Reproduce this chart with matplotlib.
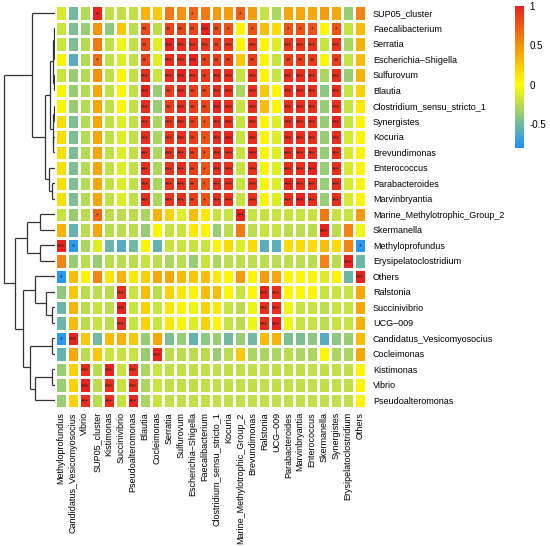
import numpy as np
import matplotlib
matplotlib.use("Agg")
import matplotlib.pyplot as plt
from matplotlib.colors import LinearSegmentedColormap

plt.rcParams['font.family'] = ['Liberation Sans', 'DejaVu Sans']
plt.rcParams['axes.unicode_minus'] = False

# labels
row_labels = ["SUP05_cluster", "Faecalibacterium", "Serratia", "Escherichia\u2013Shigella",
              "Sulfurovum", "Blautia", "Clostridium_sensu_stricto_1", "Synergistes",
              "Kocuria", "Brevundimonas", "Enterococcus", "Parabacteroides",
              "Marvinbryantia", "Marine_Methylotrophic_Group_2", "Skermanella",
              "Methyloprofundus", "Erysipelatoclostridium", "Others", "Ralstonia",
              "Succinivibrio", "UCG\u2013009", "Candidatus_Vesicomyosocius", "Cocleimonas",
              "Kistimonas", "Vibrio", "Pseudoalteromonas"]
col_labels = ["Methyloprofundus", "Candidatus_Vesicomyosocius", "Vibrio", "SUP05_cluster",
              "Kistimonas", "Succinivibrio", "Pseudoalteromonas", "Blautia", "Cocleimonas",
              "Serratia", "Sulfurovum", "Escherichia\u2013Shigella", "Faecalibacterium",
              "Clostridium_sensu_stricto_1", "Kocuria", "Marine_Methylotrophic_Group_2",
              "Brevundimonas", "Ralstonia", "UCG\u2013009", "Parabacteroides", "Marvinbryantia",
              "Enterococcus", "Skermanella", "Synergistes", "Erysipelatoclostridium", "Others"]

# correlation values (rows top->bottom, columns left->right)
corr = np.array([
    [-0.15, -0.5, -0.26, 1.0, -0.22, -0.22, -0.22, 0.35, 0.25, 0.62, 0.5, 0.7, 0.6, 0.45, 0.45, 0.72, 0.45, -0.2, -0.3, 0.4, 0.4, 0.4, 0.45, 0.4, -0.36, 0.55],
    [-0.2, -0.46, -0.36, 0.48, -0.4, 0.25, -0.24, 0.82, -0.24, 0.85, 0.85, 0.85, 1.0, 0.85, 0.78, 0.05, 0.78, 0.3, 0.15, 0.78, 0.78, 0.78, 0.05, 0.78, -0.2, 0.3],
    [-0.2, -0.46, -0.26, 0.6, -0.22, -0.06, -0.22, 0.85, -0.12, 1.0, 0.95, 0.95, 0.92, 0.88, 0.92, 0.05, 0.92, 0.05, -0.12, 0.92, 0.92, 0.92, -0.2, 0.92, -0.3, 0.35],
    [0.05, -0.6, -0.26, 0.65, -0.22, -0.12, -0.22, 0.85, -0.12, 0.95, 0.95, 1.0, 0.88, 0.88, 0.88, 0.25, 0.88, 0.05, -0.2, 0.88, 0.88, 0.88, 0.05, 0.88, -0.2, 0.3],
    [-0.2, -0.36, -0.26, 0.5, -0.22, 0.05, -0.22, 0.95, -0.2, 0.95, 1.0, 0.95, 0.9, 0.95, 0.95, -0.2, 0.95, 0.05, -0.2, 0.95, 0.95, 0.95, -0.3, 0.95, -0.36, 0.35],
    [0.05, -0.36, -0.26, 0.4, -0.22, 0.05, -0.22, 1.0, -0.36, 0.88, 0.95, 0.88, 0.85, 0.95, 0.95, -0.3, 0.95, 0.25, 0.05, 0.95, 0.95, 0.95, -0.4, 0.95, -0.2, 0.2],
    [0.05, -0.36, -0.26, 0.4, -0.22, 0.05, -0.22, 0.95, -0.36, 0.88, 0.95, 0.88, 0.85, 1.0, 0.95, -0.2, 0.95, 0.3, 0.05, 0.95, 0.95, 0.95, -0.36, 0.95, -0.2, 0.1],
    [0.15, -0.46, -0.26, 0.4, -0.22, -0.12, -0.22, 0.95, -0.3, 0.92, 0.95, 0.88, 0.78, 0.95, 0.95, -0.2, 0.95, 0.05, -0.12, 0.95, 0.95, 0.95, -0.36, 1.0, -0.2, 0.05],
    [0.15, -0.46, -0.26, 0.4, -0.22, -0.12, -0.22, 0.95, -0.3, 0.92, 0.95, 0.88, 0.78, 0.95, 1.0, -0.2, 0.95, 0.05, -0.12, 0.95, 0.95, 0.95, -0.36, 0.95, -0.15, 0.05],
    [0.15, -0.46, -0.26, 0.4, -0.22, -0.12, -0.22, 0.95, -0.3, 0.92, 0.95, 0.88, 0.78, 0.95, 0.95, -0.2, 1.0, 0.05, -0.12, 0.95, 0.95, 0.95, -0.36, 0.95, -0.15, 0.05],
    [0.15, -0.46, -0.26, 0.4, -0.22, -0.12, -0.22, 0.95, -0.3, 0.92, 0.95, 0.88, 0.78, 0.95, 0.95, -0.2, 0.95, 0.05, -0.12, 0.95, 0.95, 1.0, -0.36, 0.95, -0.15, 0.05],
    [0.15, -0.46, -0.26, 0.4, -0.22, -0.12, -0.22, 0.95, -0.3, 0.92, 0.95, 0.88, 0.78, 0.95, 0.95, -0.2, 0.95, 0.05, -0.12, 1.0, 0.95, 0.95, -0.36, 0.95, -0.15, 0.05],
    [0.15, -0.46, -0.26, 0.4, -0.22, -0.12, -0.22, 0.95, -0.3, 0.92, 0.95, 0.88, 0.78, 0.95, 0.95, -0.2, 0.95, 0.05, -0.12, 0.95, 1.0, 0.95, -0.36, 0.95, -0.15, 0.05],
    [-0.2, -0.36, -0.24, 0.7, -0.24, -0.24, -0.24, -0.3, 0.35, 0.2, -0.12, 0.3, 0.1, -0.2, -0.2, 1.0, -0.2, -0.2, -0.2, -0.2, -0.2, -0.2, 0.6, -0.2, -0.2, 0.45],
    [0.35, -0.55, -0.24, 0.4, -0.24, -0.24, -0.24, -0.36, 0.05, -0.2, -0.2, 0.1, 0.05, -0.36, -0.24, 0.6, -0.24, -0.2, -0.2, -0.24, -0.24, -0.24, 1.0, -0.24, 0.55, -0.06],
    [1.0, -0.75, -0.3, -0.12, -0.52, -0.6, -0.5, 0.05, -0.55, -0.2, -0.2, -0.2, -0.2, 0.05, 0.15, -0.12, 0.15, -0.58, -0.58, 0.15, 0.15, 0.15, 0.3, 0.15, 0.55, -0.75],
    [0.55, -0.36, -0.24, -0.36, -0.24, -0.24, -0.24, -0.2, -0.24, -0.3, -0.24, -0.36, -0.2, -0.3, -0.24, -0.24, -0.24, -0.24, -0.24, -0.24, -0.24, -0.24, 0.55, -0.24, 1.0, -0.52],
    [-0.75, 0.3, 0.05, 0.55, 0.1, 0.35, 0.1, 0.2, 0.4, 0.4, 0.3, 0.25, 0.3, 0.1, 0.05, 0.45, 0.05, 0.45, 0.4, 0.05, 0.05, 0.05, -0.12, 0.05, -0.52, 1.0],
    [-0.4, 0.25, -0.24, -0.24, -0.24, 0.95, -0.2, 0.3, -0.24, 0.2, 0.1, 0.05, 0.3, 0.3, 0.05, -0.2, 0.05, 1.0, 0.95, 0.05, 0.05, 0.05, -0.2, -0.2, -0.2, 0.4],
    [-0.52, 0.35, -0.24, -0.2, -0.24, 1.0, -0.2, 0.2, -0.2, 0.1, 0.05, -0.06, 0.2, 0.1, -0.2, -0.24, -0.06, 0.95, 0.95, -0.06, -0.2, -0.2, -0.24, -0.2, -0.2, 0.4],
    [-0.52, 0.3, -0.24, -0.2, -0.24, 0.95, -0.2, 0.2, -0.2, 0.1, 0.05, -0.12, 0.2, 0.05, -0.2, -0.24, -0.06, 0.95, 1.0, -0.06, -0.2, -0.2, -0.24, -0.2, -0.2, 0.35],
    [-0.75, 1.0, 0.25, -0.5, 0.3, 0.35, 0.25, -0.36, 0.4, -0.46, -0.36, -0.55, -0.4, -0.36, -0.5, -0.36, -0.5, 0.3, 0.35, -0.46, -0.46, -0.4, -0.6, -0.4, -0.36, 0.3],
    [-0.55, 0.4, -0.24, 0.25, -0.2, -0.2, -0.2, -0.36, 1.0, -0.24, -0.24, -0.24, -0.24, -0.36, -0.24, 0.25, -0.3, -0.3, -0.3, -0.24, -0.3, -0.3, 0.05, -0.3, -0.3, 0.4],
    [-0.36, 0.2, 0.95, -0.24, 1.0, -0.2, 0.95, -0.3, -0.2, -0.22, -0.22, -0.22, -0.22, -0.22, -0.22, -0.22, -0.22, -0.22, -0.22, -0.22, -0.22, -0.22, -0.22, -0.22, -0.22, 0.05],
    [-0.36, 0.2, 1.0, -0.24, 0.95, -0.2, 0.95, -0.3, -0.2, -0.22, -0.22, -0.22, -0.22, -0.22, -0.22, -0.22, -0.22, -0.22, -0.22, -0.22, -0.22, -0.22, -0.22, -0.22, -0.22, 0.05],
    [-0.36, 0.2, 0.95, -0.24, 0.95, -0.2, 1.0, -0.3, -0.2, -0.22, -0.22, -0.22, -0.22, -0.22, -0.22, -0.22, -0.22, -0.22, -0.22, -0.22, -0.22, -0.22, -0.22, -0.22, -0.22, 0.05],
])

# significance stars per cell (number of *)
stars = [
    "00010000000100010000000000",
    "00000002022232101001110100",
    "00000002033332303003330300",
    "00010002033322202002220200",
    "00000003033323303003330300",
    "00000003023223303003330300",
    "00000003023223303003330300",
    "00000003033213303003330300",
    "00000003033213303003330300",
    "00000003033213303003330300",
    "00000003033213303003330300",
    "00000003033213303003330300",
    "00000003033213303003330300",
    "00010000000000030000000000",
    "00000000000000000000003000",
    "31000000000000000000000001",
    "00000000000000000000000030",
    "10000000000000000000000003",
    "00000300000000000330000000",
    "00000300000000000330000000",
    "00000300000000000330000000",
    "13000000000000000000000000",
    "00000000300000000000000000",
    "00303030000000000000000000",
    "00303030000000000000000000",
    "00303030000000000000000000",
]

# row dendrogram: (height, left, right), leaves are row indices
tree = (1.0,
        (0.457, 0,
         (0.196,
          (0.098,
           (0.03, (0.02, 1, (0.01, 2, 3)), (0.015, 4, 5)),
           (0.04, (0.02, 6, 7), (0.03, 8, 9))),
          (0.12, 10, (0.05, 11, 12)))),
        (0.784,
         (0.549, (0.294, 13, 14), (0.294, 15, 16)),
         (0.627,
          (0.392, 17, (0.176, 18, (0.06, 19, 20))),
          (0.49, (0.065, 21, 22), (0.39, (0.05, 23, 24), 25)))))

cmap = LinearSegmentedColormap.from_list(
    "rb", [(0.0, "#1E90FF"), (0.8 / 1.8, "#FFFF00"), (1.0, "#E8231E")])

W, H = 550, 547
fig = plt.figure(figsize=(W / 100, H / 100), dpi=100)
hm_left, hm_right, hm_top, hm_bot = 55, 366, 5, 408
ax = fig.add_axes([hm_left / W, 1 - hm_bot / H, (hm_right - hm_left) / W, (hm_bot - hm_top) / H])
nr, nc = corr.shape
mesh = ax.pcolormesh(np.arange(nc + 1), np.arange(nr + 1), corr, cmap=cmap,
                     vmin=-0.8, vmax=1, edgecolors="white", linewidth=0.9)
ax.set_xlim(0, nc)
ax.set_ylim(nr, 0)
for s in ax.spines.values():
    s.set_visible(False)
ax.yaxis.tick_right()
ax.set_yticks(np.arange(nr) + 0.5)
ax.set_yticklabels(row_labels)
ax.set_xticks(np.arange(nc) + 0.5)
ax.set_xticklabels(col_labels, rotation=90)
ax.tick_params(axis="y", length=0, pad=5, labelsize=6.5)
ax.tick_params(axis="x", length=0, pad=3, labelsize=6.5)

for r in range(nr):
    for c in range(nc):
        n = int(stars[r][c])
        if n:
            ax.text(c + 0.5, r + 0.62, "*" * n, ha="center", va="center", fontsize=5, color="#222222")

# dendrogram
axd = fig.add_axes([0, 1 - hm_bot / H, hm_left / W, (hm_bot - hm_top) / H])
axd.set_ylim(nr, 0)
axd.set_xlim(hm_left / (hm_left - 4), 0)
axd.axis("off")


def draw(node):
    if isinstance(node, int):
        return node + 0.5, 0.0
    h, a, b = node
    ya, ha = draw(a)
    yb, hb = draw(b)
    kw = dict(color="#333333", lw=0.9, solid_capstyle="butt")
    axd.plot([ha, h], [ya, ya], **kw)
    axd.plot([hb, h], [yb, yb], **kw)
    axd.plot([h, h], [ya, yb], **kw)
    return (ya + yb) / 2, h


draw(tree)

# colour bar
cax = fig.add_axes([515 / W, 1 - 148 / H, 9 / W, 142 / H])
cb = fig.colorbar(mesh, cax=cax, ticks=[-0.5, 0, 0.5, 1])
cb.outline.set_visible(False)
cb.ax.set_yticklabels(["-0.5", "0", "0.5", "1"])
cb.ax.tick_params(length=0, pad=4, labelsize=7)

fig.savefig("out.png", dpi=100)
